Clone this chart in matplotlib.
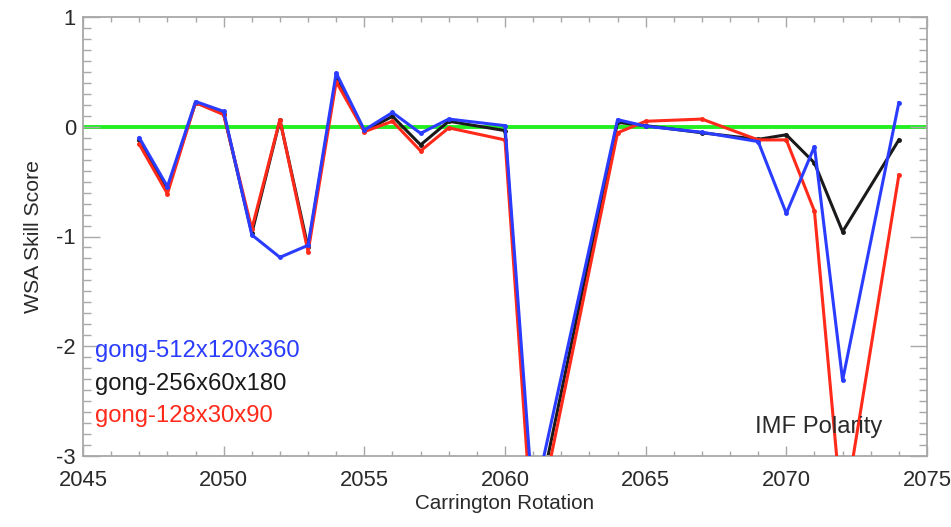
import numpy as np
import matplotlib
matplotlib.use("Agg")
import matplotlib.pyplot as plt
from matplotlib import font_manager
from matplotlib.ticker import MultipleLocator

# ---- data ----
rotation = [2047, 2048, 2049, 2050, 2051, 2052, 2053, 2054, 2055, 2056, 2057,
            2058, 2060, 2061, 2064, 2065, 2067, 2069, 2070, 2071, 2072, 2074]
gong_512 = [-0.10, -0.545, 0.23, 0.14, -0.985, -1.19, -1.08, 0.49, -0.03, 0.13, -0.06,
            0.07, 0.01, -3.45, 0.065, 0.005, -0.05, -0.135, -0.79, -0.18, -2.31, 0.22]
gong_256 = [-0.12, -0.57, 0.22, 0.12, -0.97, 0.06, -1.10, 0.45, -0.04, 0.095, -0.165,
            0.05, -0.035, -3.65, 0.04, 0.01, -0.055, -0.115, -0.073, -0.33, -0.956, -0.12]
gong_128 = [-0.16, -0.61, 0.22, 0.11, -0.93, 0.065, -1.14, 0.41, -0.045, 0.05, -0.22,
            -0.01, -0.12, -3.8, -0.055, 0.05, 0.07, -0.12, -0.12, -0.77, -3.6, -0.44]
labels = ["gong-512x120x360", "gong-256x60x180", "gong-128x30x90"]
colors = ["#2a3cff", "#1a1a1a", "#ff2a1a"]

# ---- font ----
names = {f.name for f in font_manager.fontManager.ttflist}
if "Liberation Sans Narrow" in names:
    fam = "Liberation Sans Narrow"
    s = 1.0
else:
    fam = "Liberation Sans"
    s = 0.83
plt.rcParams["font.family"] = [fam, "DejaVu Sans"]
plt.rcParams["axes.unicode_minus"] = False

fig = plt.figure(figsize=(9.51, 5.27), dpi=100)
ax = fig.add_axes([83 / 951, 1 - 456 / 527, 844 / 951, 439 / 527])

ax.axhline(0, color="#22ee22", lw=2.8, zorder=1)
series = [gong_256, gong_128, gong_512]
cols = [colors[1], colors[2], colors[0]]
for i, (ys, c) in enumerate(zip(series, cols)):
    ax.plot(rotation, ys, color=c, lw=2.2, marker="o", ms=2.5, zorder=2 + i)

ax.set_xlim(2045, 2075)
ax.set_ylim(-3, 1)
ax.xaxis.set_major_locator(MultipleLocator(5))
ax.xaxis.set_minor_locator(MultipleLocator(1))
ax.yaxis.set_major_locator(MultipleLocator(1))
ax.yaxis.set_minor_locator(MultipleLocator(0.1))

frame_c = "#a8a8a8"
for sp in ax.spines.values():
    sp.set_color(frame_c)
    sp.set_linewidth(1.3)
ax.tick_params(axis="both", which="both", direction="in", colors=frame_c,
               top=True, right=True, labelcolor="#2a2a2a")
ax.tick_params(axis="x", which="major", length=7, width=1.0, pad=10,
               labelsize=18.6 * 0.85)
ax.tick_params(axis="x", which="minor", length=3.5, width=1.0)
ax.tick_params(axis="y", which="major", length=12, width=1.0, pad=5,
               labelsize=18.6 * 0.85)
ax.tick_params(axis="y", which="minor", length=5.5, width=1.0)

ax.set_ylabel("WSA Skill Score", fontsize=18.5 * s, color="#2a2a2a", labelpad=10)
ax.set_xlabel("Carrington Rotation", fontsize=17.9 * s, color="#2a2a2a", labelpad=2)

ys_leg = [0.2255, 0.150, 0.077]
for lab, c, yy in zip(labels, colors, ys_leg):
    ax.text(0.0142, yy, lab, transform=ax.transAxes, color=c, fontsize=20.7 * s,
            va="baseline", ha="left", zorder=10)

ax.text(0.9467, 0.0524, "IMF Polarity", transform=ax.transAxes, color="#2a2a2a",
        fontsize=20.6 * s, va="baseline", ha="right", zorder=10)

fig.savefig("out.png", dpi=100)
